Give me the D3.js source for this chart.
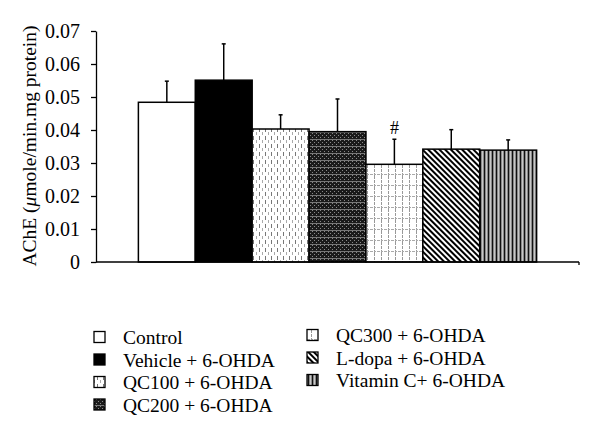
<!DOCTYPE html>
<html><head><meta charset="utf-8">
<script src="https://cdn.jsdelivr.net/npm/d3@7"></script>
<style>body{margin:0;background:#fff}svg{display:block}text{font-family:"Liberation Serif","Times New Roman",serif;fill:#000}</style>
</head><body><svg id="c" width="600" height="439"></svg>
<script>
const categories = ["Control","Vehicle + 6-OHDA","QC100 + 6-OHDA","QC200 + 6-OHDA","QC300 + 6-OHDA","L-dopa + 6-OHDA","Vitamin C+ 6-OHDA"];
const means = [0.0484, 0.0551, 0.0403, 0.0395, 0.0296, 0.0342, 0.0339];
const errors = [0.0064, 0.0110, 0.0043, 0.0099, 0.0076, 0.0059, 0.0031];
const marks = ["", "", "", "", "#", "", ""];
const yTicks = [0, 0.01, 0.02, 0.03, 0.04, 0.05, 0.06, 0.07];
const yTickLabels = ["0","0.01","0.02","0.03","0.04","0.05","0.06","0.07"];
const patterns = ["white","black","p-qc100","p-qc200","p-qc300","p-ldopa","p-vitc"];

const svg = d3.select("#c");
const defs = svg.append("defs");

// QC100: white with columns of gray dashes
(function(){
  const p = defs.append("pattern").attr("id","p-qc100").attr("patternUnits","userSpaceOnUse").attr("width",6).attr("height",8);
  p.append("rect").attr("width",6).attr("height",8).attr("fill","#fff");
  p.append("rect").attr("x",1).attr("y",0).attr("width",1).attr("height",4).attr("fill","#777");
  p.append("rect").attr("x",4).attr("y",4).attr("width",1).attr("height",3).attr("fill","#aaa");
})();
// QC200: dark checker with light horizontal lines
(function(){
  const p = defs.append("pattern").attr("id","p-qc200").attr("patternUnits","userSpaceOnUse").attr("width",4).attr("height",7);
  p.append("rect").attr("width",4).attr("height",7).attr("fill","#1a1a1a");
  p.append("rect").attr("x",0).attr("y",0).attr("width",1).attr("height",1).attr("fill","#888");
  p.append("rect").attr("x",2).attr("y",2).attr("width",1).attr("height",1).attr("fill","#888");
  p.append("rect").attr("x",0).attr("y",4).attr("width",1).attr("height",1).attr("fill","#888");
  p.append("rect").attr("x",0).attr("y",6).attr("width",4).attr("height",1).attr("fill","#777");
})();
// QC300: white with dashed gray grid
(function(){
  const p = defs.append("pattern").attr("id","p-qc300").attr("patternUnits","userSpaceOnUse").attr("width",7).attr("height",11);
  p.append("rect").attr("width",7).attr("height",11).attr("fill","#fff");
  p.append("line").attr("x1",3.5).attr("x2",3.5).attr("y1",0).attr("y2",11).attr("stroke","#999").attr("stroke-width",1).attr("stroke-dasharray","3,1");
  p.append("line").attr("x1",0).attr("x2",7).attr("y1",9.5).attr("y2",9.5).attr("stroke","#aaa").attr("stroke-width",1).attr("stroke-dasharray","2,1");
})();
// L-dopa: diagonal stripes (top-left to bottom-right)
(function(){
  const p = defs.append("pattern").attr("id","p-ldopa").attr("patternUnits","userSpaceOnUse").attr("width",4).attr("height",4)
    .attr("patternTransform","rotate(-45)");
  p.append("rect").attr("width",4).attr("height",4).attr("fill","#fff");
  p.append("rect").attr("x",0).attr("y",0).attr("width",2).attr("height",4).attr("fill","#000");
})();
// Vitamin C: vertical stripes
(function(){
  const p = defs.append("pattern").attr("id","p-vitc").attr("patternUnits","userSpaceOnUse").attr("width",4).attr("height",4);
  p.append("rect").attr("width",4).attr("height",4).attr("fill","#8a8a8a");
  p.append("rect").attr("x",0).attr("y",0).attr("width",1).attr("height",4).attr("fill","#111");
  p.append("rect").attr("x",2).attr("y",0).attr("width",1).attr("height",4).attr("fill","#c8c8c8");
})();

const x = d3.scaleBand().domain(categories).range([96, 579]).paddingInner(0).paddingOuter(0.745);
const y = d3.scaleLinear().domain([0, 0.07]).range([262, 31]);

// bars
svg.append("g").selectAll("rect").data(categories).join("rect")
  .attr("x", d => x(d)).attr("width", x.bandwidth())
  .attr("y", (d,i) => y(means[i])).attr("height", (d,i) => y(0) - y(means[i]))
  .attr("fill", (d,i) => patterns[i].startsWith("p-") ? `url(#${patterns[i]})` : patterns[i])
  .attr("stroke","#000").attr("stroke-width",1.5);

// error bars
const eg = svg.append("g").attr("stroke","#000").attr("stroke-width",1.5);
categories.forEach((c,i) => {
  const cx = x(c) + x.bandwidth()/2;
  eg.append("line").attr("x1",cx).attr("x2",cx).attr("y1",y(means[i])).attr("y2",y(means[i]+errors[i]));
  eg.append("line").attr("x1",cx-2).attr("x2",cx+2).attr("y1",y(means[i]+errors[i])).attr("y2",y(means[i]+errors[i]));
  if (marks[i]) svg.append("text").attr("x",cx).attr("y",y(means[i]+errors[i])-5).attr("text-anchor","middle")
    .attr("font-size",18).text(marks[i]);
});

// y axis
const yAxis = d3.axisLeft(y).tickValues(yTicks).tickFormat((d,i) => yTickLabels[i]).tickSize(5).tickPadding(11).tickSizeOuter(0);
const ya = svg.append("g").attr("transform","translate(96,0)").call(yAxis);
ya.selectAll("text").attr("font-size",20).attr("font-family","Liberation Serif").attr("dy","0.34em");
ya.selectAll("line,path").attr("stroke","#000").attr("stroke-width",1.3);

// x axis
const xa = svg.append("g");
xa.append("line").attr("x1",96).attr("x2",579).attr("y1",y(0)).attr("y2",y(0)).attr("stroke","#000").attr("stroke-width",1.5);
xa.append("line").attr("x1",579).attr("x2",579).attr("y1",y(0)).attr("y2",y(0)+3).attr("stroke","#000").attr("stroke-width",1.3);

// y label
const yl = svg.append("text").attr("transform","translate(36,146) rotate(-90)").attr("text-anchor","middle").attr("font-size",19.5);
yl.append("tspan").text("AChE (");
yl.append("tspan").attr("font-style","italic").text("μ");
yl.append("tspan").text("mole/min.mg protein)");

// legend
const legendPos = [
  [94,337],[94,359.5],[94,382],[94,404.5],
  [307,335],[307,357.5],[307,380]
];
const lg = svg.append("g");
categories.forEach((c,i) => {
  const [lx, ly] = legendPos[i];
  lg.append("rect").attr("x",lx).attr("y",ly-5.5).attr("width",11).attr("height",11)
    .attr("fill", patterns[i].startsWith("p-") ? `url(#${patterns[i]})` : patterns[i])
    .attr("stroke","#000").attr("stroke-width",1.3);
  lg.append("text").attr("x",lx+29).attr("y",ly+7).attr("font-size",19.5).text(c);
});
</script></body></html>
